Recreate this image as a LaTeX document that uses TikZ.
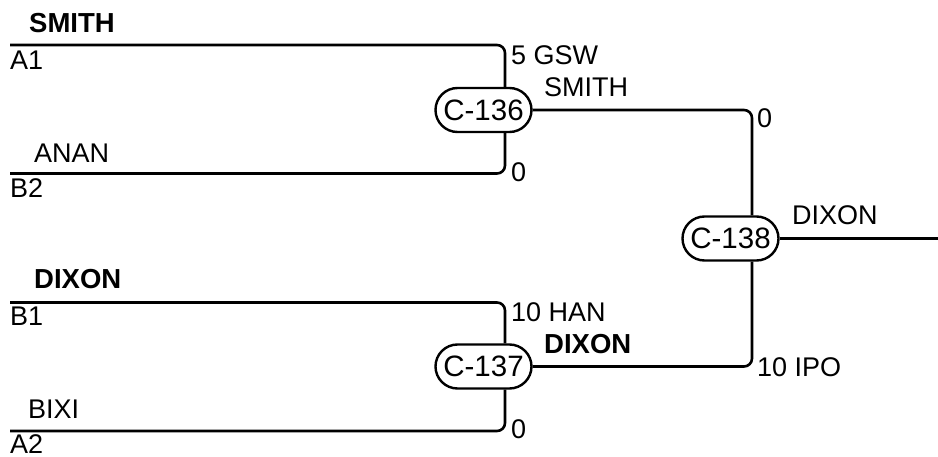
\documentclass[tikz,border=0pt]{standalone}
\usepackage{fontspec}
\setmainfont{Liberation Sans}
\begin{document}
\begin{tikzpicture}[x=1pt,y=-1pt,
  wire/.style={line width=2.6pt,rounded corners=8pt},
  lbl/.style={anchor=base west,inner sep=0pt,font=\fontsize{27}{31}\selectfont},
  blbl/.style={lbl,font=\fontsize{27.5}{31}\selectfont\bfseries},
  matchbox/.style={draw,line width=2.4pt,rectangle,rounded corners=22pt,minimum width=96pt,minimum height=44pt,inner sep=0pt,font=\fontsize{29.5}{33}\selectfont}]
\useasboundingbox (0,0) rectangle (938,457);
% match nodes
\node[matchbox] (c136) at (483.5,110) {C-136};
\node[matchbox] (c137) at (483.5,366.5) {C-137};
\node[matchbox] (c138) at (730.5,238.5) {C-138};
% coordinates
\coordinate (a1) at (10,45);
\coordinate (b2) at (10,173.5);
\coordinate (b1) at (10,302.5);
\coordinate (a2) at (10,431);
\coordinate (v1) at (505,0);
\coordinate (v2) at (752,0);
\coordinate (out) at (938,238.5);
% wires
\draw[wire] (a1) -| (v1 |- c136.north);
\draw[wire] (b2) -| (v1 |- c136.south);
\draw[wire] (b1) -| (v1 |- c137.north);
\draw[wire] (a2) -| (v1 |- c137.south);
\draw[wire] (c136.east) -| (v2 |- c138.north);
\draw[wire] (c137.east) -| (v2 |- c138.south);
\draw[wire] (c138.east) -- (out);
% player labels
\node[blbl] (tsmith) at (29,33) {SMITH};
\node[lbl] (ta1) at (10,70) {A1};
\node[lbl] (tanan) at (34,163) {ANAN};
\node[lbl] (tb2) at (10,198) {B2};
\node[blbl] (tdixon) at (34,289) {DIXON};
\node[lbl] (tb1) at (10,326) {B1};
\node[lbl] (tbixi) at (28,418) {BIXI};
\node[lbl] (ta2) at (10,453) {A2};
% score labels
\node[lbl] (s1) at (511,65) {5 GSW};
\node[lbl] (s2) at (511,182) {0};
\node[lbl] (w136) at (544,97) {SMITH};
\node[lbl] (s3) at (757,128) {0};
\node[lbl] (w138) at (792,225) {DIXON};
\node[lbl] (s4) at (511,322) {10 HAN};
\node[blbl] (w137) at (544,354) {DIXON};
\node[lbl] (s5) at (757,377) {10 IPO};
\node[lbl] (s6) at (511,438) {0};
\end{tikzpicture}
\end{document}
